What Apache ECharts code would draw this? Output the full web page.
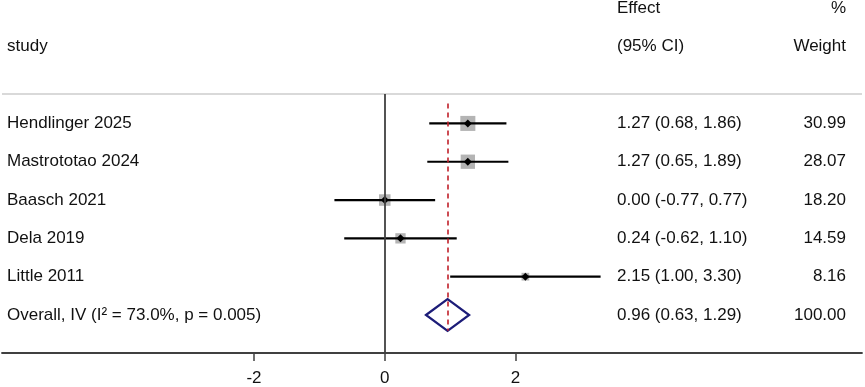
<!DOCTYPE html>
<html>
<head>
<meta charset="utf-8">
<script src="https://cdn.jsdelivr.net/npm/echarts@6/dist/echarts.min.js"></script>
<style>
  html, body { margin: 0; padding: 0; background: #fff; }
  #chart { width: 865px; height: 387px; }
</style>
</head>
<body>
<div id="chart"></div>
<script>
const studies = ["Hendlinger 2025", "Mastrototao 2024", "Baasch 2021", "Dela 2019", "Little 2011"];
const effects = [1.27, 1.27, 0.00, 0.24, 2.15];
const lower = [0.68, 0.65, -0.77, -0.62, 1.00];
const upper = [1.86, 1.89, 0.77, 1.10, 3.30];
const weights = [30.99, 28.07, 18.20, 14.59, 8.16];
const overallLabel = "Overall, IV (I² = 73.0%, p = 0.005)";
const overallEffect = [0.96, 0.63, 1.29]; // estimate, lower, upper
const overallWeight = 100.00;
const xTicks = [-2, 0, 2];

// row layout: 0/1 header lines, 2 blank, 3..7 studies, 8 overall
const firstStudyRow = 3;
const overallRow = firstStudyRow + studies.length;

const font = '"Liberation Sans", Arial, sans-serif';
const textColor = "#111111";
const fmt = v => v.toFixed(2);

const ciText = (es, lo, hi) => `${fmt(es)} (${fmt(lo)}, ${fmt(hi)})`;

// text cells: [row, column, text]
const cells = [
  [0, "eff", "Effect"], [0, "w", "%"],
  [1, "study", "study"], [1, "eff", "(95% CI)"], [1, "w", "Weight"],
];
studies.forEach((s, i) => {
  const r = firstStudyRow + i;
  cells.push([r, "study", s]);
  cells.push([r, "eff", ciText(effects[i], lower[i], upper[i])]);
  cells.push([r, "w", fmt(weights[i])]);
});
cells.push([overallRow, "study", overallLabel]);
cells.push([overallRow, "eff", ciText(overallEffect[0], overallEffect[1], overallEffect[2])]);
cells.push([overallRow, "w", fmt(overallWeight)]);

const colPos = { study: [7, "left"], eff: [617, "left"], w: [846, "right"] };

const xMin = -5.853, xMax = 7.297;
const yMin = -0.221, yMax = 8.992;
const ruleRow = 2.234;

const chart = echarts.init(document.getElementById("chart"), null, { renderer: "canvas" });

chart.setOption({
  animation: false,
  grid: { left: 2, right: 3, top: 0, bottom: 32.3 },
  xAxis: {
    type: "value",
    min: xMin,
    max: xMax,
    axisLine: { show: true, onZero: false, lineStyle: { color: "#404040", width: 1.8 } },
    axisTick: { show: true, customValues: xTicks, length: 8, lineStyle: { color: "#404040", width: 1.5 } },
    axisLabel: { show: true, customValues: xTicks, margin: 17, color: textColor, fontSize: 17, fontFamily: font },
    splitLine: { show: false }
  },
  yAxis: {
    type: "value",
    inverse: true,
    min: yMin,
    max: yMax,
    show: false
  },
  series: [
    {
      type: "custom",
      name: "studies",
      data: studies.map((s, i) => [effects[i], firstStudyRow + i, lower[i], upper[i], weights[i]]),
      renderItem: (params, api) => {
        const es = api.value(0), row = api.value(1);
        const c = api.coord([es, row]);
        const l = api.coord([api.value(2), row]);
        const h = api.coord([api.value(3), row]);
        const s = 2.7 * Math.sqrt(api.value(4));
        const d = 4;
        return {
          type: "group",
          children: [
            { type: "rect", shape: { x: c[0] - s / 2, y: c[1] - s / 2, width: s, height: s }, style: { fill: "#b4b4b4" } },
            { type: "line", shape: { x1: l[0], y1: l[1], x2: h[0], y2: h[1] }, style: { stroke: "#000", lineWidth: 2.2 } },
            { type: "polygon", shape: { points: [[c[0] - d, c[1]], [c[0], c[1] - d], [c[0] + d, c[1]], [c[0], c[1] + d]] }, style: { fill: "#000" } }
          ]
        };
      },
      markLine: {
        silent: true,
        symbol: "none",
        label: { show: false },
        data: [
          [{ coord: [xMin, ruleRow], lineStyle: { color: "#cccccc", width: 1.6, type: "solid" } }, { coord: [xMax, ruleRow] }],
          [{ coord: [0, ruleRow], lineStyle: { color: "#404040", width: 1.8, type: "solid" } }, { coord: [0, yMax] }]
        ]
      },
      z: 3
    },
    {
      type: "custom",
      name: "overall",
      data: [[overallEffect[0], overallRow, overallEffect[1], overallEffect[2]]],
      renderItem: (params, api) => {
        const row = api.value(1);
        const c = api.coord([api.value(0), row]);
        const l = api.coord([api.value(2), row]);
        const h = api.coord([api.value(3), row]);
        const hh = 15.8;
        return {
          type: "polygon",
          shape: { points: [[l[0], c[1]], [c[0], c[1] - hh], [h[0], c[1]], [c[0], c[1] + hh]] },
          style: { fill: "none", stroke: "#1c1c78", lineWidth: 2.2 }
        };
      },
      markLine: {
        silent: true,
        symbol: "none",
        label: { show: false },
        lineStyle: { color: "#c0202a", width: 1.6, type: [5, 4] },
        data: [[{ coord: [overallEffect[0], 2.48] }, { coord: [overallEffect[0], overallRow + 0.41] }]]
      },
      z: 4
    },
    {
      type: "custom",
      name: "text",
      data: cells.map(c => [0, c[0], c[1], c[2]]),
      dimensions: ["x", "row", "col", "txt"],
      renderItem: (params, api) => {
        const cell = cells[params.dataIndex];
        const y = api.coord([0, cell[0]])[1];
        const pos = colPos[cell[1]];
        return {
          type: "text",
          x: pos[0],
          y: y,
          style: {
            text: cell[2],
            fill: textColor,
            fontSize: 17,
            fontFamily: font,
            align: pos[1],
            verticalAlign: "middle"
          }
        };
      },
      z: 5
    }
  ]
});
</script>
</body>
</html>
